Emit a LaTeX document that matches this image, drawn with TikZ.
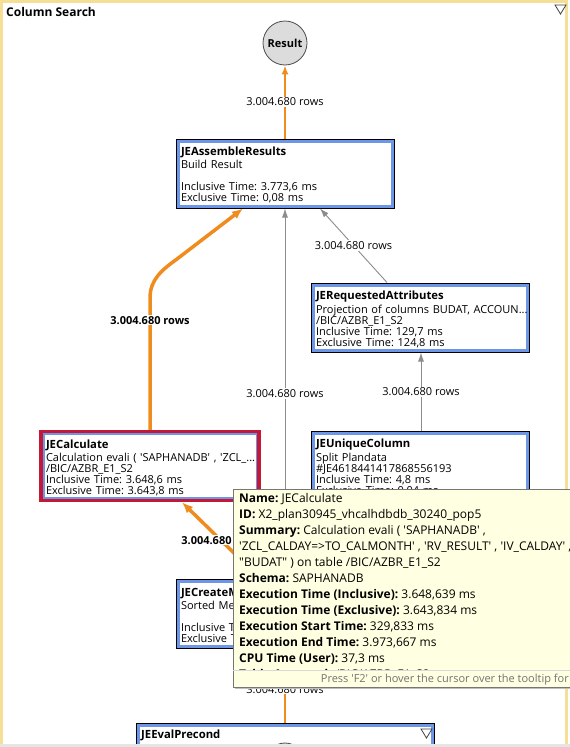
\documentclass[tikz,border=0pt]{standalone}
\usepackage{fontspec}
\setmainfont{Open Sans}
\usetikzlibrary{arrows.meta,calc}

\definecolor{planorange}{RGB}{240,140,30}
\definecolor{boxblue}{RGB}{110,150,230}
\definecolor{calcred}{RGB}{195,25,55}
\definecolor{edgegray}{RGB}{140,140,140}
\definecolor{tipfill}{RGB}{255,255,225}
\definecolor{tipborder}{RGB}{118,118,118}
\definecolor{frametan}{RGB}{245,222,150}
\definecolor{resultgray}{RGB}{220,220,220}

\newcommand{\optitle}[1]{\rule{0pt}{12pt}{\fontsize{11.3}{11.3}\selectfont\bfseries #1}}
\newcommand{\tq}{\textquotesingle}

\tikzset{
  opbox/.style={rectangle, draw=black, line width=1pt, fill=white,
    minimum width=218pt, minimum height=69pt, text width=208pt,
    inner xsep=5pt, inner ysep=0pt, align=left,
    font=\fontsize{11}{11}\selectfont,
    path picture={\draw[boxblue, line width=7pt]
      (path picture bounding box.south west) rectangle (path picture bounding box.north east);}},
  hotbox/.style={opbox, draw=calcred, line width=3.5pt},
  resnode/.style={circle, draw=black!70, line width=0.8pt, fill=resultgray,
    minimum size=44pt, inner sep=0pt, font=\fontsize{11}{11}\selectfont\bfseries},
  flowthin/.style={planorange, line width=2pt, -{Latex[length=9pt,width=7pt]}},
  flowthick/.style={planorange, line width=3.5pt, -{Latex[length=11pt,width=9pt]}},
  flowgray/.style={edgegray, line width=0.9pt, -{Latex[length=9pt,width=6pt]}},
  rowlbl/.style={fill=white, text=black, inner sep=1pt, font=\fontsize{11}{11}\selectfont},
  rowlblbold/.style={rowlbl, font=\fontsize{11}{11}\selectfont\bfseries},
  tipbox/.style={rectangle, draw=tipborder, line width=0.8pt, fill=tipfill,
    minimum width=370pt, minimum height=198pt, anchor=north west, inner sep=0pt}
}

\begin{document}
\frenchspacing
\begin{tikzpicture}[x=1pt, y=-1pt]

    \useasboundingbox (0,0) rectangle (570,747);
    \fill[white] (0,0) rectangle (570,747);

    % panel frame and title
    \draw[frametan, line width=3pt] (1.5,1.5) rectangle (566.5,746);
    \node[anchor=west, inner sep=0pt, font=\fontsize{12}{12}\selectfont\bfseries] (title) at (6,12) {Column Search};
    \draw[black!75, line width=0.8pt] (555,5) -- (566,5) -- (560.5,14) -- cycle;

    % operators
    \node[resnode] (res) at (285,43) {Result};

    \node[opbox] (asm) at (285,173.5) {\optitle{JEAssembleResults}\\[2pt]
      Build Result\\[11pt]
      Inclusive Time: 3.773,6 ms\\
      Exclusive Time: 0,08 ms};

    \node[opbox] (reqattr) at (420,317.5) {\optitle{JERequestedAttributes}\\[2pt]
      \mbox{Projection of columns BUDAT, ACCOUN...}\\
      /BIC/AZBR\_E1\_S2\\
      Inclusive Time: 129,7 ms\\
      Exclusive Time: 124,8 ms};

    \node[hotbox] (calc) at (150,466) {\optitle{JECalculate}\\[2pt]
      \mbox{Calculation evali ( \tq SAPHANADB\tq\ , \tq ZCL\_...}\\
      /BIC/AZBR\_E1\_S2\\
      Inclusive Time: 3.648,6 ms\\
      Exclusive Time: 3.643,8 ms};

    \node[opbox] (uniq) at (420,466) {\optitle{JEUniqueColumn}\\[2pt]
      Split Plandata\\
      \#JE4618441417868556193\\
      Inclusive Time: 4,8 ms\\
      Exclusive Time: 0,04 ms};

    \node[opbox] (createm) at (285,613.5) {\optitle{JECreateM}\\[2pt]
      Sorted Me\\[11pt]
      Inclusive T\\
      Exclusive T};

    \node[opbox, minimum width=298pt, minimum height=80pt, text width=288pt] (evalpre) at (285,763) {};
    \node[anchor=west, inner sep=0pt] (evaltitle) at (141,734) {\optitle{JEEvalPrecond}};
    \draw[black!75, line width=0.8pt] (421,729) -- (432,729) -- (426.5,738) -- cycle;
    \node[resnode, minimum size=40pt] (evalres) at (285,763) {};

    % row flows
    \draw[flowthin] (asm.north) -- node[rowlbl] {3.004.680 rows} (res.south);

    \draw[flowthick] (calc.north) -- node[rowlblbold, pos=0.83] {3.004.680 rows} (150,298)
      to[out=90, in=216] (177,259) -- ($(asm.south)+(-42,0)$);

    \draw[flowgray] (createm.north) -- node[rowlbl] {3.004.680 rows} (asm.south);

    \draw[flowgray] ($(reqattr.north)+(-33,0)$) -- node[rowlbl] {3.004.680 rows} ($(asm.south)+(35,0)$);

    \draw[flowgray] ($(uniq.north)+(1,0)$) -- node[rowlbl] {3.004.680 rows} ($(reqattr.south)+(1,0)$);

    \draw[flowthick] ($(createm.north)+(-25,0)$) -- node[rowlblbold] {3.004.680 rows} ($(calc.south)+(32,0)$);

    \draw[flowthin] (evalpre.north) -- node[rowlbl, pos=0.45] {3.004.680 rows} (createm.south);

    % tooltip
    \fill[black!25] (235,491) rectangle (604,689);
    \node[tipbox] (tip) at (233,489) {};
    \begin{scope}
      \clip (233,489) rectangle (600,670);
      \node[anchor=north west, inner sep=0pt, align=left, font=\fontsize{12}{16}\selectfont] (tiptext) at (239,493)
        {\textbf{Name:} JECalculate\\
         \textbf{ID:} X2\_plan30945\_vhcalhdbdb\_30240\_pop5\\
         \textbf{Summary:} Calculation evali ( \tq SAPHANADB\tq\ ,\\
         \tq ZCL\_CALDAY=>TO\_CALMONTH\tq\ , \tq RV\_RESULT\tq\ , \tq IV\_CALDAY\tq\ ,\\
         \textquotedbl BUDAT\textquotedbl\ ) on table /BIC/AZBR\_E1\_S2\\
         \textbf{Schema:} SAPHANADB\\
         \textbf{Execution Time (Inclusive):} 3.648,639 ms\\
         \textbf{Execution Time (Exclusive):} 3.643,834 ms\\
         \textbf{Execution Start Time:} 329,833 ms\\
         \textbf{Execution End Time:} 3.973,667 ms\\
         \textbf{CPU Time (User):} 37,3 ms\\
         \textbf{Table Accessed:} /BIC/AZBR\_E1\_S2};
    \end{scope}
    \draw[black!15, line width=0.8pt] (tip.west |- 0,670) -- (tip.east |- 0,670);
    \node[anchor=east, inner sep=0pt, text=black!55, font=\fontsize{11}{11}\selectfont] (tipfoot) at (569,680)
      {Press \tq F2\tq\ or hover the cursor over the tooltip for};

    % status strip
    \fill[black!10] (0,744) rectangle (570,747);

\end{tikzpicture}
\end{document}
